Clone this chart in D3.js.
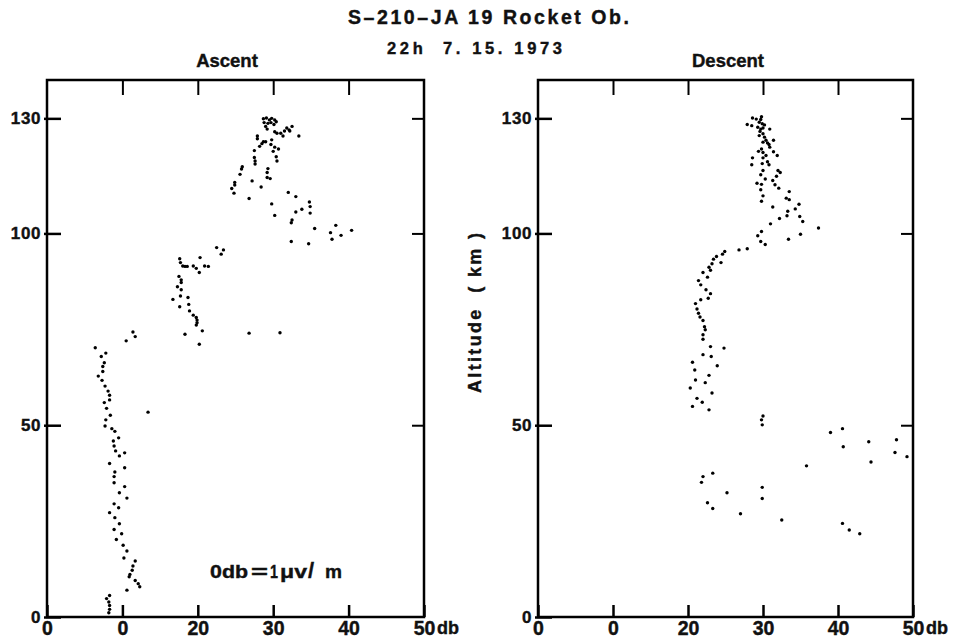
<!DOCTYPE html>
<html>
<head>
<meta charset="utf-8">
<script src="https://cdn.jsdelivr.net/npm/d3@7"></script>
<style>
  body { margin: 0; background: #fff; }
  text { font-family: "Liberation Sans", Arial, sans-serif; font-weight: bold; fill: #111; stroke: #111; stroke-width: 0.4; }
</style>
</head>
<body>
<div id="chart"></div>
<script>
/*------------------------------
 DATA
 ----------------------------*/
const X_TICKS = [0, 10, 20, 30, 40, 50];
const X_TICK_LABELS = ["0", "0", "20", "30", "40", "50"];
const Y_TICKS = [0, 50, 100, 130];
const Y_TICK_LABELS = ["0", "50", "100", "130"];

// [db, altitude km]
const ASCENT = [
  [28.7,129.9],[29.1,130.1],[29.5,129.6],[29.8,130.0],[30.2,129.6],[30.4,129.1],[28.8,128.9],[29.3,128.7],
  [29.7,128.9],[30.1,128.4],[29.0,127.9],[29.2,127.2],[30.2,126.5],[30.5,126.1],[31.0,126.1],[31.3,125.4],
  [31.5,126.7],[31.8,127.5],[32.1,127.0],[32.5,127.9],[32.2,126.7],[33.4,125.4],[27.9,125.4],[27.9,124.7],
  [28.7,123.9],[28.5,123.4],[28.2,122.7],[27.5,121.6],[29.0,123.9],[29.8,124.4],[29.7,123.2],[30.2,122.5],
  [30.7,122.0],[30.0,121.4],
  [27.5,119.8],[27.6,118.9],[27.6,118.1],[30.4,120.0],[30.5,118.9],[25.9,117.4],[25.8,116.8],[25.6,115.4],
  [29.3,116.9],[29.2,115.9],[29.2,114.6],[29.6,114.3],[24.9,113.3],[24.9,112.6],[24.5,111.7],[24.8,110.5],
  [27.2,113.7],[28.4,112.1],[26.8,109.1],[32.0,110.7],[33.0,109.6],[29.8,107.7],[34.8,108.2],[34.9,107.0],
  [34.9,105.3],[33.8,106.3],[33.0,105.6],[32.5,103.5],[32.4,102.8],[30.2,104.7],[35.5,101.3],[38.3,102.1],
  [37.6,100.2],[37.8,98.5],[39.0,99.5],[40.4,100.8],[32.4,97.9],[34.7,97.3],
  [22.5,96.3],[23.4,95.7],[23.1,94.6],[17.6,93.4],[17.7,92.4],[18.0,91.5],[18.3,91.4],[18.6,91.4],
  [19.4,91.5],[19.8,90.9],[20.2,89.8],[20.3,93.7],[20.9,91.5],[21.4,91.4],[17.5,88.8],[17.8,87.9],
  [17.8,87.2],[17.3,86.1],[17.8,85.3],[17.7,83.7],[16.7,82.8],[18.7,83.3],[18.8,81.5],[17.6,80.9],
  [18.9,79.8],[19.4,78.7],[19.8,78.1],[19.9,77.4],[19.9,76.7],[19.8,76.1],[20.6,74.6],[18.3,73.7],
  [26.8,74.0],[30.9,74.1],[20.2,71.1],[11.4,74.3],[11.7,73.1],[10.5,72.0],[6.4,70.2],
  [7.8,68.8],[7.2,67.9],[7.6,66.3],[7.4,65.3],[7.4,64.0],[6.8,62.8],[7.3,61.7],[7.7,60.2],
  [8.1,58.9],[8.3,57.8],[8.3,56.6],[7.6,55.9],[7.9,54.4],[8.4,52.6],[7.8,51.4],[7.7,49.8],
  [8.6,49.1],[9.0,48.4],[9.5,46.7],[8.8,45.9],[8.9,44.6],[9.1,43.3],[10.3,42.8],[9.6,42.0],
  [8.3,40.0],[10.3,38.9],[9.0,37.8],[8.9,36.6],[8.9,35.0],[10.3,34.0],[9.6,32.4],[10.6,31.0],
  [8.9,29.5],[9.5,28.5],[8.3,27.2],[9.0,25.9],[9.6,24.3],[8.9,22.8],[9.9,21.7],[9.2,20.2],
  [10.1,18.7],[10.6,17.2],[10.2,15.4],[11.7,14.6],[11.4,13.3],[11.3,12.2],[11.0,11.1],[10.9,10.5],
  [11.7,9.5],[12.1,8.7],[12.3,7.9],[10.6,7.0],[8.3,5.6],[7.9,4.8],[8.2,3.9],[8.3,3.0],
  [8.3,2.0],[8.2,1.1],[13.4,53.4]
];

const DESCENT = [
  [28.6,130.1],[29.1,129.8],[29.8,130.4],[29.7,129.7],[27.9,128.4],[28.5,128.1],[29.5,129.0],[29.9,128.6],
  [30.2,128.3],[29.3,127.7],[29.7,127.2],[30.0,127.5],[30.9,127.2],[29.6,126.6],[30.0,126.0],[29.5,125.5],
  [30.2,125.1],[30.4,124.3],[30.0,123.8],[30.6,123.6],[30.8,123.2],[31.4,124.3],[30.9,122.5],[29.8,122.0],
  [29.4,121.4],[30.0,121.1],[31.4,121.3],[31.9,120.3],[30.4,120.3],[28.6,119.7],[30.0,119.7],[30.6,118.7],
  [30.8,117.9],[28.5,117.9],[29.9,118.2],[32.0,116.4],[32.3,115.9],[30.0,116.4],[29.7,115.3],[30.3,114.2],
  [31.8,114.9],[31.3,113.8],[31.6,112.7],[29.2,113.1],[29.8,112.8],[32.1,111.8],[29.7,111.4],[33.5,110.9],
  [30.0,109.8],[33.1,109.2],[33.5,108.8],[29.8,108.4],[34.8,107.6],[31.3,106.9],[34.3,106.4],[33.3,105.8],
  [33.2,104.6],[34.9,104.4],[32.2,103.9],
  [35.3,103.1],[31.0,102.5],[37.4,101.4],[35.0,99.8],[33.4,98.5],[29.8,100.5],[29.3,99.4],[29.7,97.9],
  [30.3,97.1],[27.9,96.0],[26.8,95.7],[24.9,95.3],[24.6,94.6],[23.8,94.0],[24.4,92.4],[23.4,93.3],
  [23.2,92.1],[22.8,91.2],[23.0,90.4],[22.0,89.8],[22.6,88.6],[21.4,87.7],[21.7,86.6],[22.4,85.3],
  [23.0,84.3],[22.7,83.1],[21.7,82.7],[21.0,81.7],[21.2,80.3],[21.4,79.2],[21.6,78.2],[22.0,77.3],
  [22.2,75.7],[22.3,74.9],[22.0,73.6],[22.0,72.4],[23.0,70.5],[24.8,70.1],
  [22.0,68.4],[23.1,67.9],[20.6,66.4],[23.9,65.5],[20.9,64.4],[22.8,63.0],[21.0,61.8],[22.3,61.1],
  [20.3,59.7],[23.2,58.4],[21.2,57.0],[21.9,56.0],[20.6,54.9],[22.8,54.0],
  [30.0,52.4],[29.8,51.4],[29.9,50.1],[39.0,48.1],[40.6,49.1],[40.7,44.4],[44.1,45.7],[47.8,46.2],
  [47.6,42.9],[49.2,41.8],[44.4,40.4],[35.8,39.4],[23.3,37.5],[22.0,36.6],[21.8,35.1],[29.9,33.8],
  [25.2,32.4],[29.9,30.9],[22.6,29.8],[23.3,28.3],[27.0,26.9],[32.5,25.3],[40.6,24.4],[41.5,22.7],
  [42.9,21.7]
];

/*------------------------------
 LAYOUT
 ----------------------------*/
const SVG_WIDTH = 953;
const SVG_HEIGHT = 642;
const TOP = 80, BOTTOM = 617;

const svg = d3.select("#chart").append("svg")
  .attr("width", SVG_WIDTH)
  .attr("height", SVG_HEIGHT);

const yScale = d3.scaleLinear().domain([0, 140]).range([BOTTOM, TOP]);

function drawPanel(data, x0, x1, title, titleX) {
  const xScale = d3.scaleLinear().domain([0, 50]).range([x0, x1]);
  const g = svg.append("g");

  // frame
  g.append("rect")
    .attr("x", x0).attr("y", TOP)
    .attr("width", x1 - x0).attr("height", BOTTOM - TOP)
    .attr("fill", "none").attr("stroke", "#000").attr("stroke-width", 2.5);

  // bottom axis, ticks pointing inward
  const bottomAxis = g.append("g")
    .attr("transform", `translate(0, ${BOTTOM})`)
    .call(d3.axisBottom(xScale).tickValues(X_TICKS)
      .tickFormat((d, i) => X_TICK_LABELS[i]).tickSize(-12).tickPadding(4));
  bottomAxis.select(".domain").remove();
  bottomAxis.attr("font-size", 19.5).attr("font-family", null);
  bottomAxis.selectAll("line").attr("stroke-width", 2.5);

  g.append("text")
    .attr("x", x1 + 13).attr("y", BOTTOM + 17)
    .attr("font-size", 18)
    .text("db");

  // top ticks
  const topAxis = g.append("g")
    .attr("transform", `translate(0, ${TOP})`)
    .call(d3.axisTop(xScale).tickValues(X_TICKS.slice(1, 5)).tickFormat("").tickSize(-15));
  topAxis.select(".domain").remove();
  topAxis.selectAll("line").attr("stroke-width", 2);

  // left axis with labels
  const leftAxis = g.append("g")
    .attr("transform", `translate(${x0}, 0)`)
    .call(d3.axisLeft(yScale).tickValues(Y_TICKS)
      .tickFormat((d, i) => Y_TICK_LABELS[i]).tickSize(-14).tickPadding(6));
  leftAxis.select(".domain").remove();
  leftAxis.attr("font-size", 17).attr("font-family", null);
  leftAxis.selectAll("text").attr("letter-spacing", 0.6);
  leftAxis.selectAll("line").attr("x1", -3).attr("stroke-width", 2.5);

  // right side ticks
  const rightAxis = g.append("g")
    .attr("transform", `translate(${x1}, 0)`)
    .call(d3.axisRight(yScale).tickValues(Y_TICKS.slice(1)).tickFormat("").tickSize(-12));
  rightAxis.select(".domain").remove();
  rightAxis.selectAll("line").attr("stroke-width", 2);

  // observations
  g.selectAll("circle.obs")
    .data(data)
    .join("circle")
    .attr("class", "obs")
    .attr("cx", d => xScale(d[0]))
    .attr("cy", d => yScale(d[1]))
    .attr("r", 1.7)
    .attr("fill", "#000");

  g.append("text")
    .attr("x", titleX).attr("y", 67)
    .attr("text-anchor", "middle")
    .attr("font-size", 18.5)
    .text(title);

  return xScale;
}

const xAscent = drawPanel(ASCENT, 47, 424, "Ascent", 227);
const xDescent = drawPanel(DESCENT, 538, 913, "Descent", 728);

// titles
svg.append("text")
  .attr("x", 348).attr("y", 24)
  .attr("font-size", 19.5)
  .attr("textLength", 281).attr("lengthAdjust", "spacing")
  .text("S\u2013210\u2013JA 19 Rocket Ob.");

svg.append("text")
  .attr("x", 387).attr("y", 54)
  .attr("font-size", 16.5)
  .attr("textLength", 175).attr("lengthAdjust", "spacing")
  .text("22h\u00a0\u00a07. 15. 1973");

// y axis title on descent panel
svg.append("text")
  .attr("transform", "translate(481, 313) rotate(-90)")
  .attr("text-anchor", "middle")
  .attr("font-size", 18)
  .attr("textLength", 160).attr("lengthAdjust", "spacing")
  .text("Altitude\u00a0 ( km )");

// reference note, pieces placed as in the original lettering
const note = svg.append("text").attr("y", 578).attr("font-size", 19);
[["0db", 210, 38], ["=", 251, 17], ["1", 270, 8], ["\u03bcv", 280, 27], ["m", 325, 17]]
  .forEach(([t, x, w]) => {
    note.append("tspan").attr("x", x)
      .attr("textLength", w).attr("lengthAdjust", "spacingAndGlyphs")
      .text(t);
  });
note.append("tspan").attr("x", 308).attr("font-size", 22).text("/");
</script>
</body>
</html>
